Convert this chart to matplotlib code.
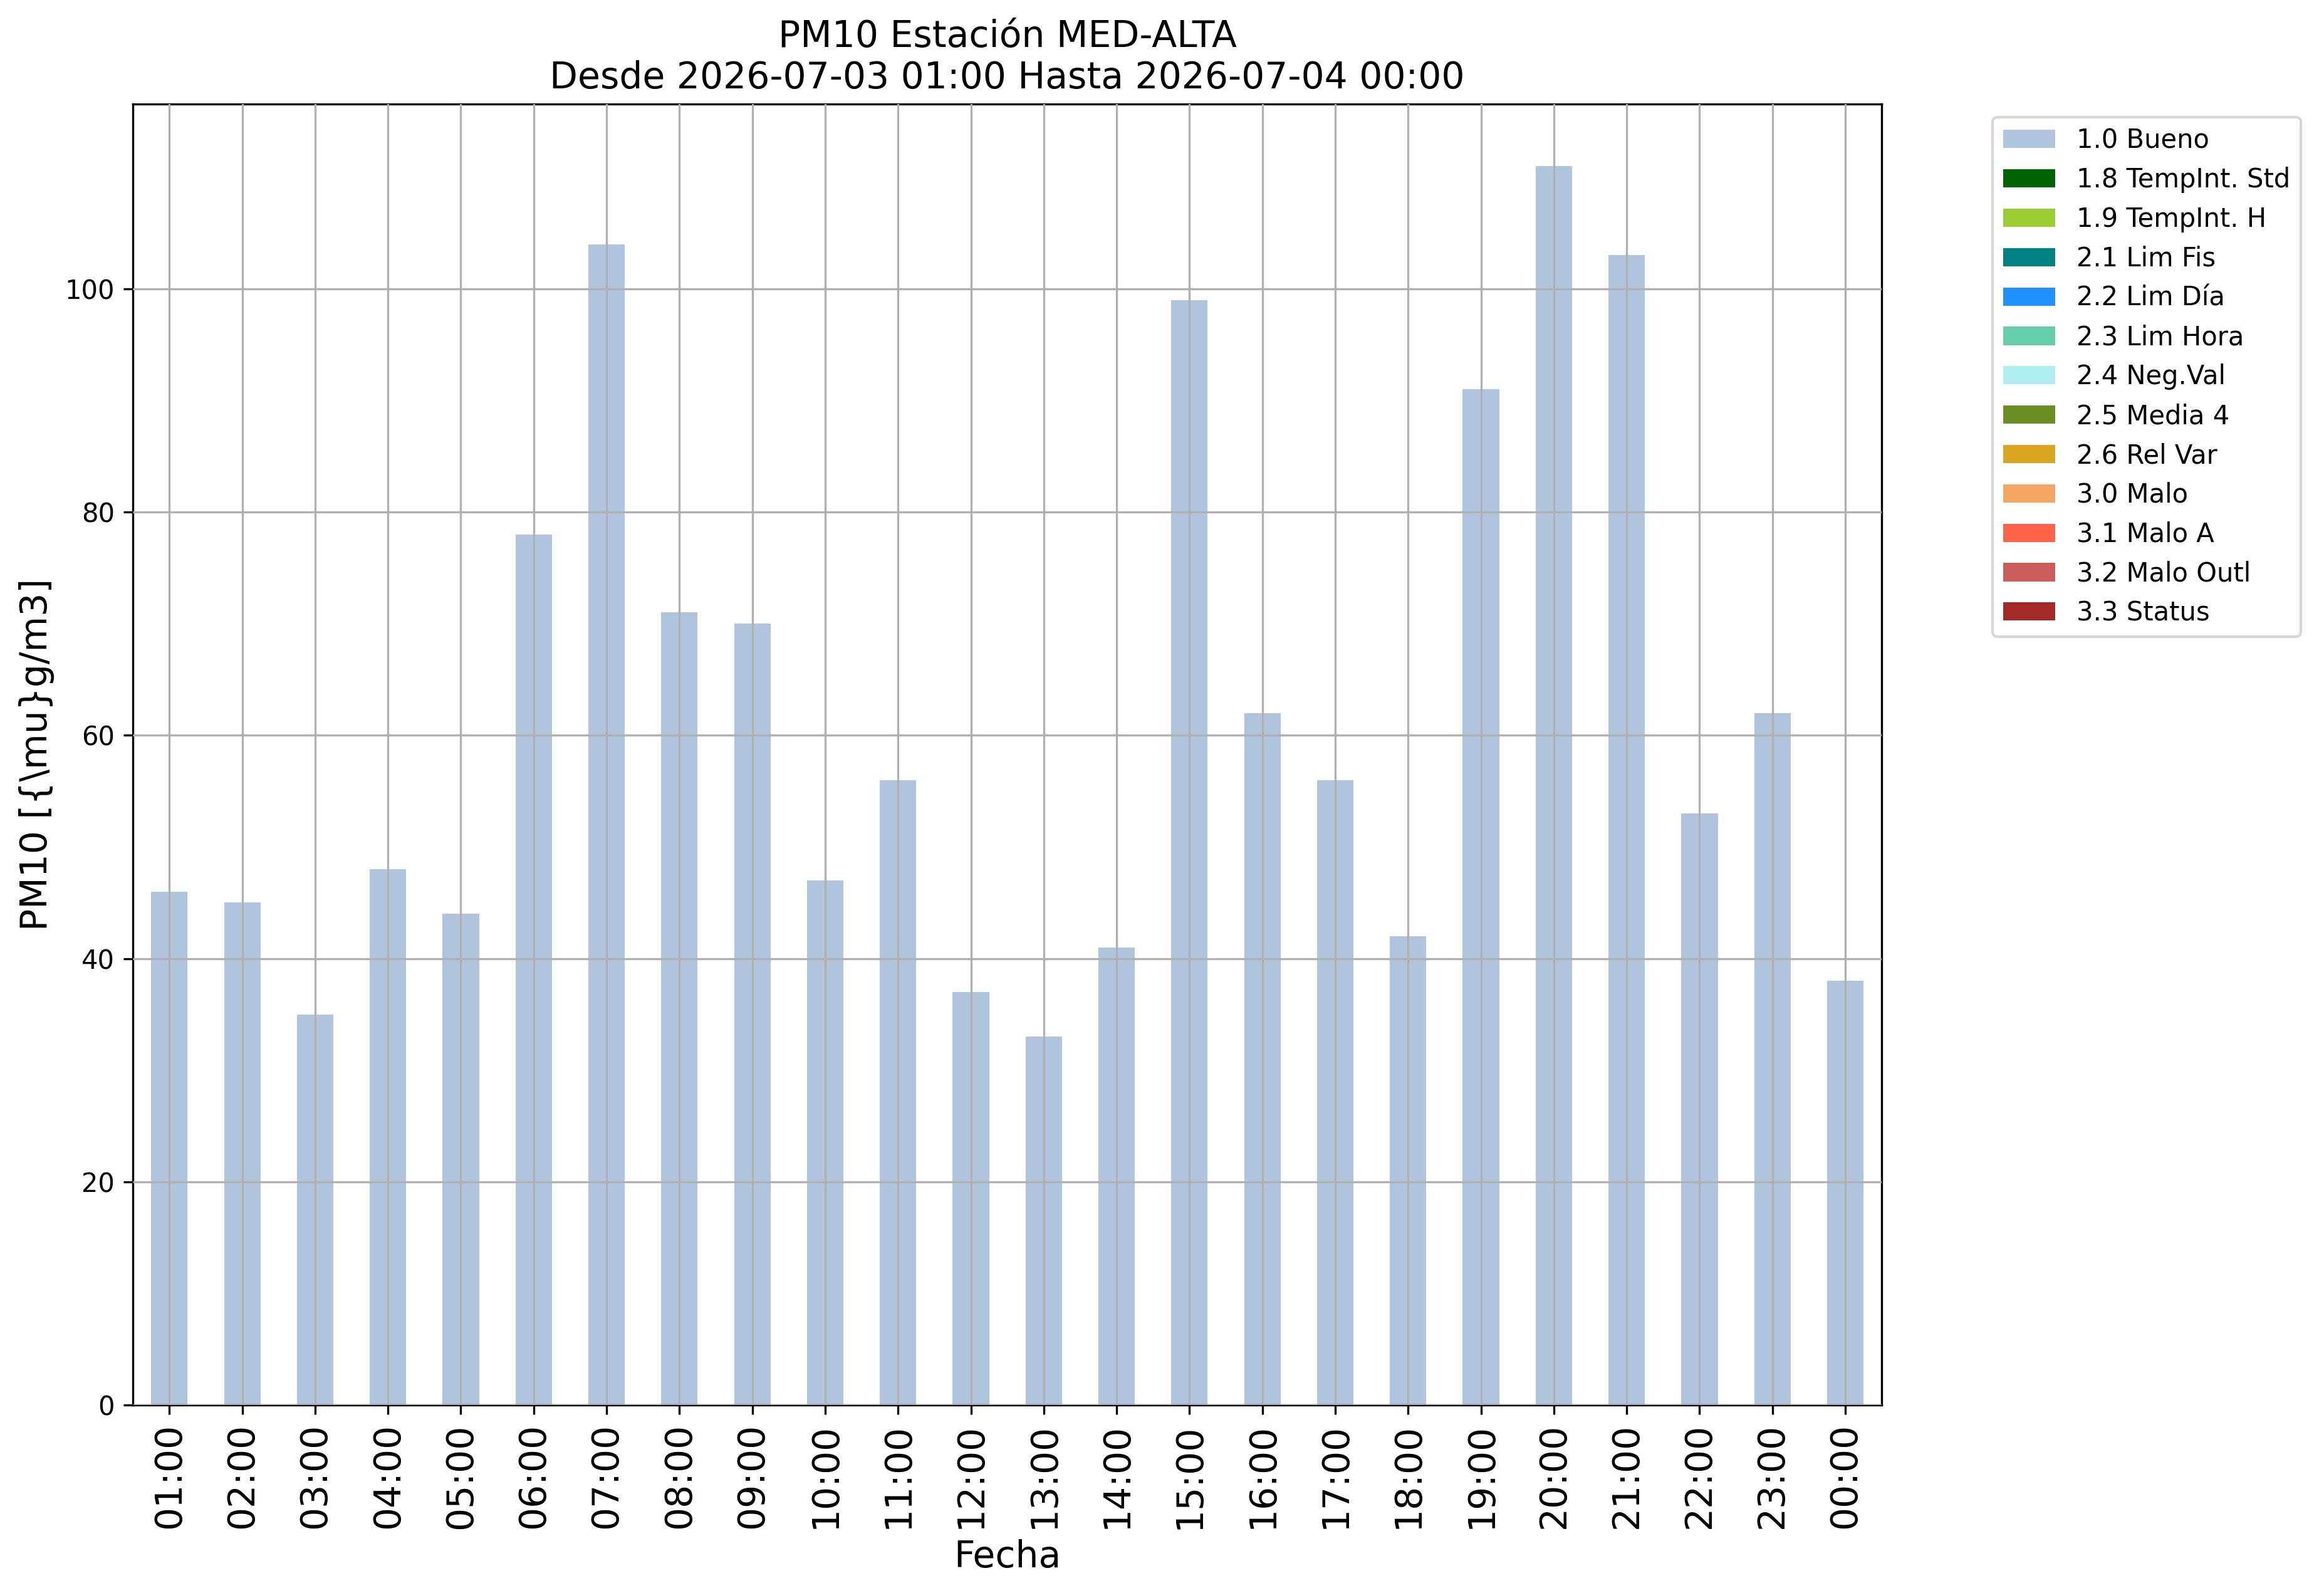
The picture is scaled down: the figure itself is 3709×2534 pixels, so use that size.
import matplotlib
matplotlib.use("Agg")
import matplotlib.pyplot as plt
import numpy as np

hours = ["01:00", "02:00", "03:00", "04:00", "05:00", "06:00", "07:00", "08:00",
         "09:00", "10:00", "11:00", "12:00", "13:00", "14:00", "15:00", "16:00",
         "17:00", "18:00", "19:00", "20:00", "21:00", "22:00", "23:00", "00:00"]
bueno = [46, 45, 35, 48, 44, 78, 104, 71, 70, 47, 56, 37, 33, 41, 99, 62,
         56, 42, 91, 111, 103, 53, 62, 38]
categories = ["1.0 Bueno", "1.8 TempInt. Std", "1.9 TempInt. H", "2.1 Lim Fis",
              "2.2 Lim Día", "2.3 Lim Hora", "2.4 Neg.Val", "2.5 Media 4",
              "2.6 Rel Var", "3.0 Malo", "3.1 Malo A", "3.2 Malo Outl", "3.3 Status"]
colors = ["lightsteelblue", "darkgreen", "yellowgreen", "teal", "dodgerblue",
          "mediumaquamarine", "paleturquoise", "olivedrab", "goldenrod",
          "sandybrown", "tomato", "indianred", "brown"]
zeros = [0] * len(hours)
series = [bueno] + [zeros] * (len(categories) - 1)

fig = plt.figure(figsize=(3709 / 300, 2534 / 300), dpi=300)
ax = fig.add_axes([0.0572, 0.1152, 0.7525, 0.8193])

x = np.arange(len(hours))
bottom = np.zeros(len(hours))
for name, vals, col in zip(categories, series, colors):
    v = np.array(vals, dtype=float)
    ax.bar(x, v, width=0.5, bottom=bottom, color=col, label=name)
    bottom = bottom + v

ax.set_xlim(-0.5, len(hours) - 0.5)
ax.set_ylim(0, max(bueno) * 1.05)
ax.set_xticks(x)
ax.set_xticklabels(hours, rotation=90, fontsize=14)
ax.tick_params(axis="y", labelsize=10)
ax.set_axisbelow(False)
ax.grid(True, color="#b0b0b0", linewidth=0.8)
ax.set_xlabel("Fecha", fontsize=14)
ax.set_ylabel("PM10 [{\\mu}g/m3]", fontsize=14)
ax.set_title("PM10 Estación MED-ALTA\nDesde 2026-07-03 01:00 Hasta 2026-07-04 00:00",
             fontsize=14)
ax.legend(loc="upper left", bbox_to_anchor=(1.056, 1), fontsize=10)

fig.savefig("out.png", dpi=300)
